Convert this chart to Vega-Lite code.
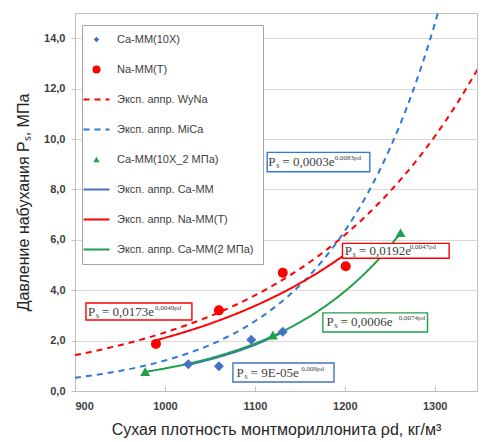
{
  "$schema": "https://vega.github.io/schema/vega-lite/v6.json",
  "width": 402,
  "height": 378,
  "autosize": "none",
  "padding": {"left": 75, "top": 13, "right": 5, "bottom": 51},
  "background": "white",
  "config": {
    "view": {"stroke": "#bfbfbf", "strokeWidth": 1},
    "axis": {
      "labelFont": "Liberation Sans",
      "labelFontWeight": "bold",
      "labelFontSize": 11,
      "labelColor": "#404040",
      "titleFont": "Liberation Sans",
      "titleFontWeight": "normal",
      "titleFontSize": 16,
      "titleColor": "#262626",
      "domainColor": "#bfbfbf",
      "tickColor": "#bfbfbf"
    }
  },
  "datasets": {
    "points": [
      {"series": "Ca-MM(10X)", "x": 1026, "y": 1.06},
      {"series": "Ca-MM(10X)", "x": 1060, "y": 0.98},
      {"series": "Ca-MM(10X)", "x": 1096, "y": 2.03},
      {"series": "Ca-MM(10X)", "x": 1131, "y": 2.35},
      {"series": "Na-MM(T)", "x": 990, "y": 1.87},
      {"series": "Na-MM(T)", "x": 1060, "y": 3.2},
      {"series": "Na-MM(T)", "x": 1131, "y": 4.69},
      {"series": "Na-MM(T)", "x": 1201, "y": 4.95},
      {"series": "Ca-MM(10X_2 МПа)", "x": 978, "y": 0.77},
      {"series": "Ca-MM(10X_2 МПа)", "x": 1120, "y": 2.22},
      {"series": "Ca-MM(10X_2 МПа)", "x": 1262, "y": 6.28}
    ],
    "lines": [
      {"series": "Эксп. аппр. WyNa", "x": 900, "y": 1.423},
      {"series": "Эксп. аппр. WyNa", "x": 925, "y": 1.609},
      {"series": "Эксп. аппр. WyNa", "x": 950, "y": 1.818},
      {"series": "Эксп. аппр. WyNa", "x": 975, "y": 2.055},
      {"series": "Эксп. аппр. WyNa", "x": 1000, "y": 2.323},
      {"series": "Эксп. аппр. WyNa", "x": 1025, "y": 2.626},
      {"series": "Эксп. аппр. WyNa", "x": 1050, "y": 2.968},
      {"series": "Эксп. аппр. WyNa", "x": 1075, "y": 3.355},
      {"series": "Эксп. аппр. WyNa", "x": 1100, "y": 3.792},
      {"series": "Эксп. аппр. WyNa", "x": 1125, "y": 4.286},
      {"series": "Эксп. аппр. WyNa", "x": 1150, "y": 4.845},
      {"series": "Эксп. аппр. WyNa", "x": 1175, "y": 5.476},
      {"series": "Эксп. аппр. WyNa", "x": 1200, "y": 6.19},
      {"series": "Эксп. аппр. WyNa", "x": 1225, "y": 6.997},
      {"series": "Эксп. аппр. WyNa", "x": 1250, "y": 7.908},
      {"series": "Эксп. аппр. WyNa", "x": 1275, "y": 8.939},
      {"series": "Эксп. аппр. WyNa", "x": 1300, "y": 10.1},
      {"series": "Эксп. аппр. WyNa", "x": 1325, "y": 11.42},
      {"series": "Эксп. аппр. WyNa", "x": 1350, "y": 12.91},
      {"series": "Эксп. аппр. MiCa", "x": 900, "y": 0.526},
      {"series": "Эксп. аппр. MiCa", "x": 925, "y": 0.648},
      {"series": "Эксп. аппр. MiCa", "x": 950, "y": 0.797},
      {"series": "Эксп. аппр. MiCa", "x": 975, "y": 0.981},
      {"series": "Эксп. аппр. MiCa", "x": 1000, "y": 1.207},
      {"series": "Эксп. аппр. MiCa", "x": 1025, "y": 1.486},
      {"series": "Эксп. аппр. MiCa", "x": 1050, "y": 1.828},
      {"series": "Эксп. аппр. MiCa", "x": 1075, "y": 2.25},
      {"series": "Эксп. аппр. MiCa", "x": 1100, "y": 2.769},
      {"series": "Эксп. аппр. MiCa", "x": 1125, "y": 3.407},
      {"series": "Эксп. аппр. MiCa", "x": 1150, "y": 4.193},
      {"series": "Эксп. аппр. MiCa", "x": 1175, "y": 5.16},
      {"series": "Эксп. аппр. MiCa", "x": 1200, "y": 6.35},
      {"series": "Эксп. аппр. MiCa", "x": 1225, "y": 7.814},
      {"series": "Эксп. аппр. MiCa", "x": 1250, "y": 9.616},
      {"series": "Эксп. аппр. MiCa", "x": 1275, "y": 11.83},
      {"series": "Эксп. аппр. MiCa", "x": 1300, "y": 14.56},
      {"series": "Эксп. аппр. MiCa", "x": 1325, "y": 17.92},
      {"series": "Эксп. аппр. Ca-MM", "x": 1026, "y": 1.04},
      {"series": "Эксп. аппр. Ca-MM", "x": 1040, "y": 1.157},
      {"series": "Эксп. аппр. Ca-MM", "x": 1060, "y": 1.35},
      {"series": "Эксп. аппр. Ca-MM", "x": 1080, "y": 1.57},
      {"series": "Эксп. аппр. Ca-MM", "x": 1100, "y": 1.83},
      {"series": "Эксп. аппр. Ca-MM", "x": 1115, "y": 2.06},
      {"series": "Эксп. аппр. Ca-MM", "x": 1131, "y": 2.33},
      {"series": "Эксп. аппр. Na-MM(T)", "x": 990, "y": 2.014},
      {"series": "Эксп. аппр. Na-MM(T)", "x": 1020, "y": 2.319},
      {"series": "Эксп. аппр. Na-MM(T)", "x": 1050, "y": 2.67},
      {"series": "Эксп. аппр. Na-MM(T)", "x": 1080, "y": 3.074},
      {"series": "Эксп. аппр. Na-MM(T)", "x": 1110, "y": 3.54},
      {"series": "Эксп. аппр. Na-MM(T)", "x": 1140, "y": 4.076},
      {"series": "Эксп. аппр. Na-MM(T)", "x": 1170, "y": 4.693},
      {"series": "Эксп. аппр. Na-MM(T)", "x": 1200, "y": 5.404},
      {"series": "Эксп. аппр. Ca-MM(2 МПа)", "x": 978, "y": 0.76},
      {"series": "Эксп. аппр. Ca-MM(2 МПа)", "x": 1000, "y": 0.895},
      {"series": "Эксп. аппр. Ca-MM(2 МПа)", "x": 1030, "y": 1.118},
      {"series": "Эксп. аппр. Ca-MM(2 МПа)", "x": 1060, "y": 1.397},
      {"series": "Эксп. аппр. Ca-MM(2 МПа)", "x": 1090, "y": 1.746},
      {"series": "Эксп. аппр. Ca-MM(2 МПа)", "x": 1120, "y": 2.182},
      {"series": "Эксп. аппр. Ca-MM(2 МПа)", "x": 1150, "y": 2.727},
      {"series": "Эксп. аппр. Ca-MM(2 МПа)", "x": 1180, "y": 3.408},
      {"series": "Эксп. аппр. Ca-MM(2 МПа)", "x": 1210, "y": 4.259},
      {"series": "Эксп. аппр. Ca-MM(2 МПа)", "x": 1240, "y": 5.322},
      {"series": "Эксп. аппр. Ca-MM(2 МПа)", "x": 1262, "y": 6.267}
    ],
    "notes": [
      {"series": "Эксп. аппр. MiCa", "bx1": 1113.7, "bx2": 1227.8, "by1": 9.47, "by2": 8.7, "tx": 1115.0, "ty": 9.09, "xs": 1188.9, "eq": "= 0,0003e", "sup": "0,0083ρd"},
      {"series": "Эксп. аппр. WyNa", "bx1": 912.2, "bx2": 1030.0, "by1": 3.49, "by2": 2.82, "tx": 914.4, "ty": 3.15, "xs": 988.9, "eq": "= 0,0173e", "sup": "0,0049ρd"},
      {"series": "Эксп. аппр. Na-MM(T)", "bx1": 1197.4, "bx2": 1316.0, "by1": 5.86, "by2": 5.27, "tx": 1200.0, "ty": 5.56, "xs": 1272.2, "eq": "= 0,0192e", "sup": "0,0047ρd"},
      {"series": "Эксп. аппр. Ca-MM(2 МПа)", "bx1": 1175.6, "bx2": 1292.0, "by1": 3.1, "by2": 2.34, "tx": 1179.7, "ty": 2.72, "xs": 1260.0, "eq": "= 0,0006e", "sup": "0,0074ρd"},
      {"series": "Эксп. аппр. Ca-MM", "bx1": 1075.6, "bx2": 1188.0, "by1": 1.11, "by2": 0.36, "tx": 1079.7, "ty": 0.73, "xs": 1151.5, "eq": "= 9E-05e", "sup": "0,009ρd"}
    ]
  },
  "layer": [
    {
      "data": {"name": "lines"},
      "mark": {"type": "line", "clip": true, "strokeWidth": 2, "interpolate": "monotone"},
      "encoding": {
        "x": {"field": "x", "type": "quantitative", "scale": {"domain": [900, 1347], "nice": false, "zero": false},
              "axis": {"values": [900, 1000, 1100, 1200, 1300], "format": "d", "grid": false, "tickSize": -5, "labelPadding": 14, "title": "Сухая плотность монтмориллонита ρd, кг/м³", "titlePadding": 10}},
        "y": {"field": "y", "type": "quantitative", "scale": {"domain": [0, 15], "nice": false},
              "axis": {"values": [0, 2, 4, 6, 8, 10, 12, 14], "grid": true, "gridColor": "#d9d9d9", "tickSize": 4, "labelPadding": 6, "labelExpr": "replace(format(datum.value, '.1f'), '.', ',')", "title": "Давление набухания Pₛ, МПа", "titlePadding": 12}},
        "color": {"field": "series", "type": "nominal",
          "scale": {"domain": ["Ca-MM(10X)", "Na-MM(T)", "Эксп. аппр. WyNa", "Эксп. аппр. MiCa", "Ca-MM(10X_2 МПа)", "Эксп. аппр. Ca-MM", "Эксп. аппр. Na-MM(T)", "Эксп. аппр. Ca-MM(2 МПа)"],
                    "range": ["#4472c4", "#ff0000", "#ff0000", "#2f7ad6", "#1fa04a", "#4472c4", "#ff0000", "#1fa04a"]},
          "legend": {"title": null, "orient": "none", "legendX": 7, "legendY": 12, "padding": 9, "strokeColor": "#a6a6a6", "fillColor": "white",
                     "labelFont": "Liberation Sans", "labelFontSize": 11, "labelColor": "#404040", "rowPadding": 18, "symbolSize": 676, "labelOffset": 15,
                     "encode": {"symbols": {"update": {
                        "size": {"signal": "datum.value === 'Ca-MM(10X)' ? 30 : datum.value === 'Na-MM(T)' ? 64 : datum.value === 'Ca-MM(10X_2 МПа)' ? 40 : 676"},
                        "strokeWidth": {"signal": "indexof(['Ca-MM(10X)','Na-MM(T)','Ca-MM(10X_2 МПа)'], datum.value) >= 0 ? 0 : 2"},
                        "stroke": {"scale": "color", "field": "value"},
                        "fill": {"scale": "color", "field": "value"},
                        "opacity": {"value": 1}
                     }}}}
        },
        "strokeDash": {"field": "series", "type": "nominal",
          "scale": {"domain": ["Ca-MM(10X)", "Na-MM(T)", "Эксп. аппр. WyNa", "Эксп. аппр. MiCa", "Ca-MM(10X_2 МПа)", "Эксп. аппр. Ca-MM", "Эксп. аппр. Na-MM(T)", "Эксп. аппр. Ca-MM(2 МПа)"],
                    "range": [[1, 0], [1, 0], [6, 5], [6, 5], [1, 0], [1, 0], [1, 0], [1, 0]]},
          "legend": {"title": null}
        }
      }
    },
    {
      "data": {"name": "points"},
      "mark": {"type": "point", "filled": true, "opacity": 1, "size": 100},
      "encoding": {
        "x": {"field": "x", "type": "quantitative"},
        "y": {"field": "y", "type": "quantitative"},
        "color": {"field": "series", "type": "nominal",
          "legend": {"title": null, "orient": "none", "legendX": 7, "legendY": 12}},
        "shape": {"field": "series", "type": "nominal",
          "scale": {"domain": ["Ca-MM(10X)", "Na-MM(T)", "Эксп. аппр. WyNa", "Эксп. аппр. MiCa", "Ca-MM(10X_2 МПа)", "Эксп. аппр. Ca-MM", "Эксп. аппр. Na-MM(T)", "Эксп. аппр. Ca-MM(2 МПа)"],
                    "range": ["diamond", "circle", "stroke", "stroke", "triangle-up", "stroke", "stroke", "stroke"]},
          "legend": {"title": null}
        }
      }
    },
    {
      "data": {"name": "notes"},
      "mark": {"type": "rect", "fill": "white", "strokeWidth": 1.4},
      "encoding": {
        "x": {"field": "bx1", "type": "quantitative"},
        "x2": {"field": "bx2"},
        "y": {"field": "by1", "type": "quantitative"},
        "y2": {"field": "by2"},
        "stroke": {"field": "series", "type": "nominal",
          "scale": {"domain": ["Эксп. аппр. MiCa", "Эксп. аппр. WyNa", "Эксп. аппр. Na-MM(T)", "Эксп. аппр. Ca-MM(2 МПа)", "Эксп. аппр. Ca-MM"],
                    "range": ["#2f7ad6", "#ff0000", "#ff0000", "#1fa04a", "#4472c4"]},
          "legend": null},
        "strokeDash": {"field": "series", "type": "nominal", "legend": null}
      }
    },
    {
      "data": {"name": "notes"},
      "mark": {"type": "text", "align": "left", "baseline": "middle", "font": "Liberation Serif", "fontSize": 13, "color": "#404040"},
      "encoding": {"x": {"field": "tx", "type": "quantitative"}, "y": {"field": "ty", "type": "quantitative"}, "text": {"value": "P"}}
    },
    {
      "data": {"name": "notes"},
      "mark": {"type": "text", "align": "left", "baseline": "middle", "font": "Liberation Serif", "fontSize": 8, "dx": 8, "dy": 4, "color": "#404040"},
      "encoding": {"x": {"field": "tx", "type": "quantitative"}, "y": {"field": "ty", "type": "quantitative"}, "text": {"value": "s"}}
    },
    {
      "data": {"name": "notes"},
      "mark": {"type": "text", "align": "left", "baseline": "middle", "font": "Liberation Serif", "fontSize": 13, "dx": 14, "color": "#404040"},
      "encoding": {"x": {"field": "tx", "type": "quantitative"}, "y": {"field": "ty", "type": "quantitative"}, "text": {"field": "eq"}}
    },
    {
      "data": {"name": "notes"},
      "mark": {"type": "text", "align": "left", "baseline": "middle", "font": "Liberation Serif", "fontSize": 7, "dy": -4, "color": "#404040"},
      "encoding": {"x": {"field": "xs", "type": "quantitative"}, "y": {"field": "ty", "type": "quantitative"}, "text": {"field": "sup"}}
    }
  ]
}
